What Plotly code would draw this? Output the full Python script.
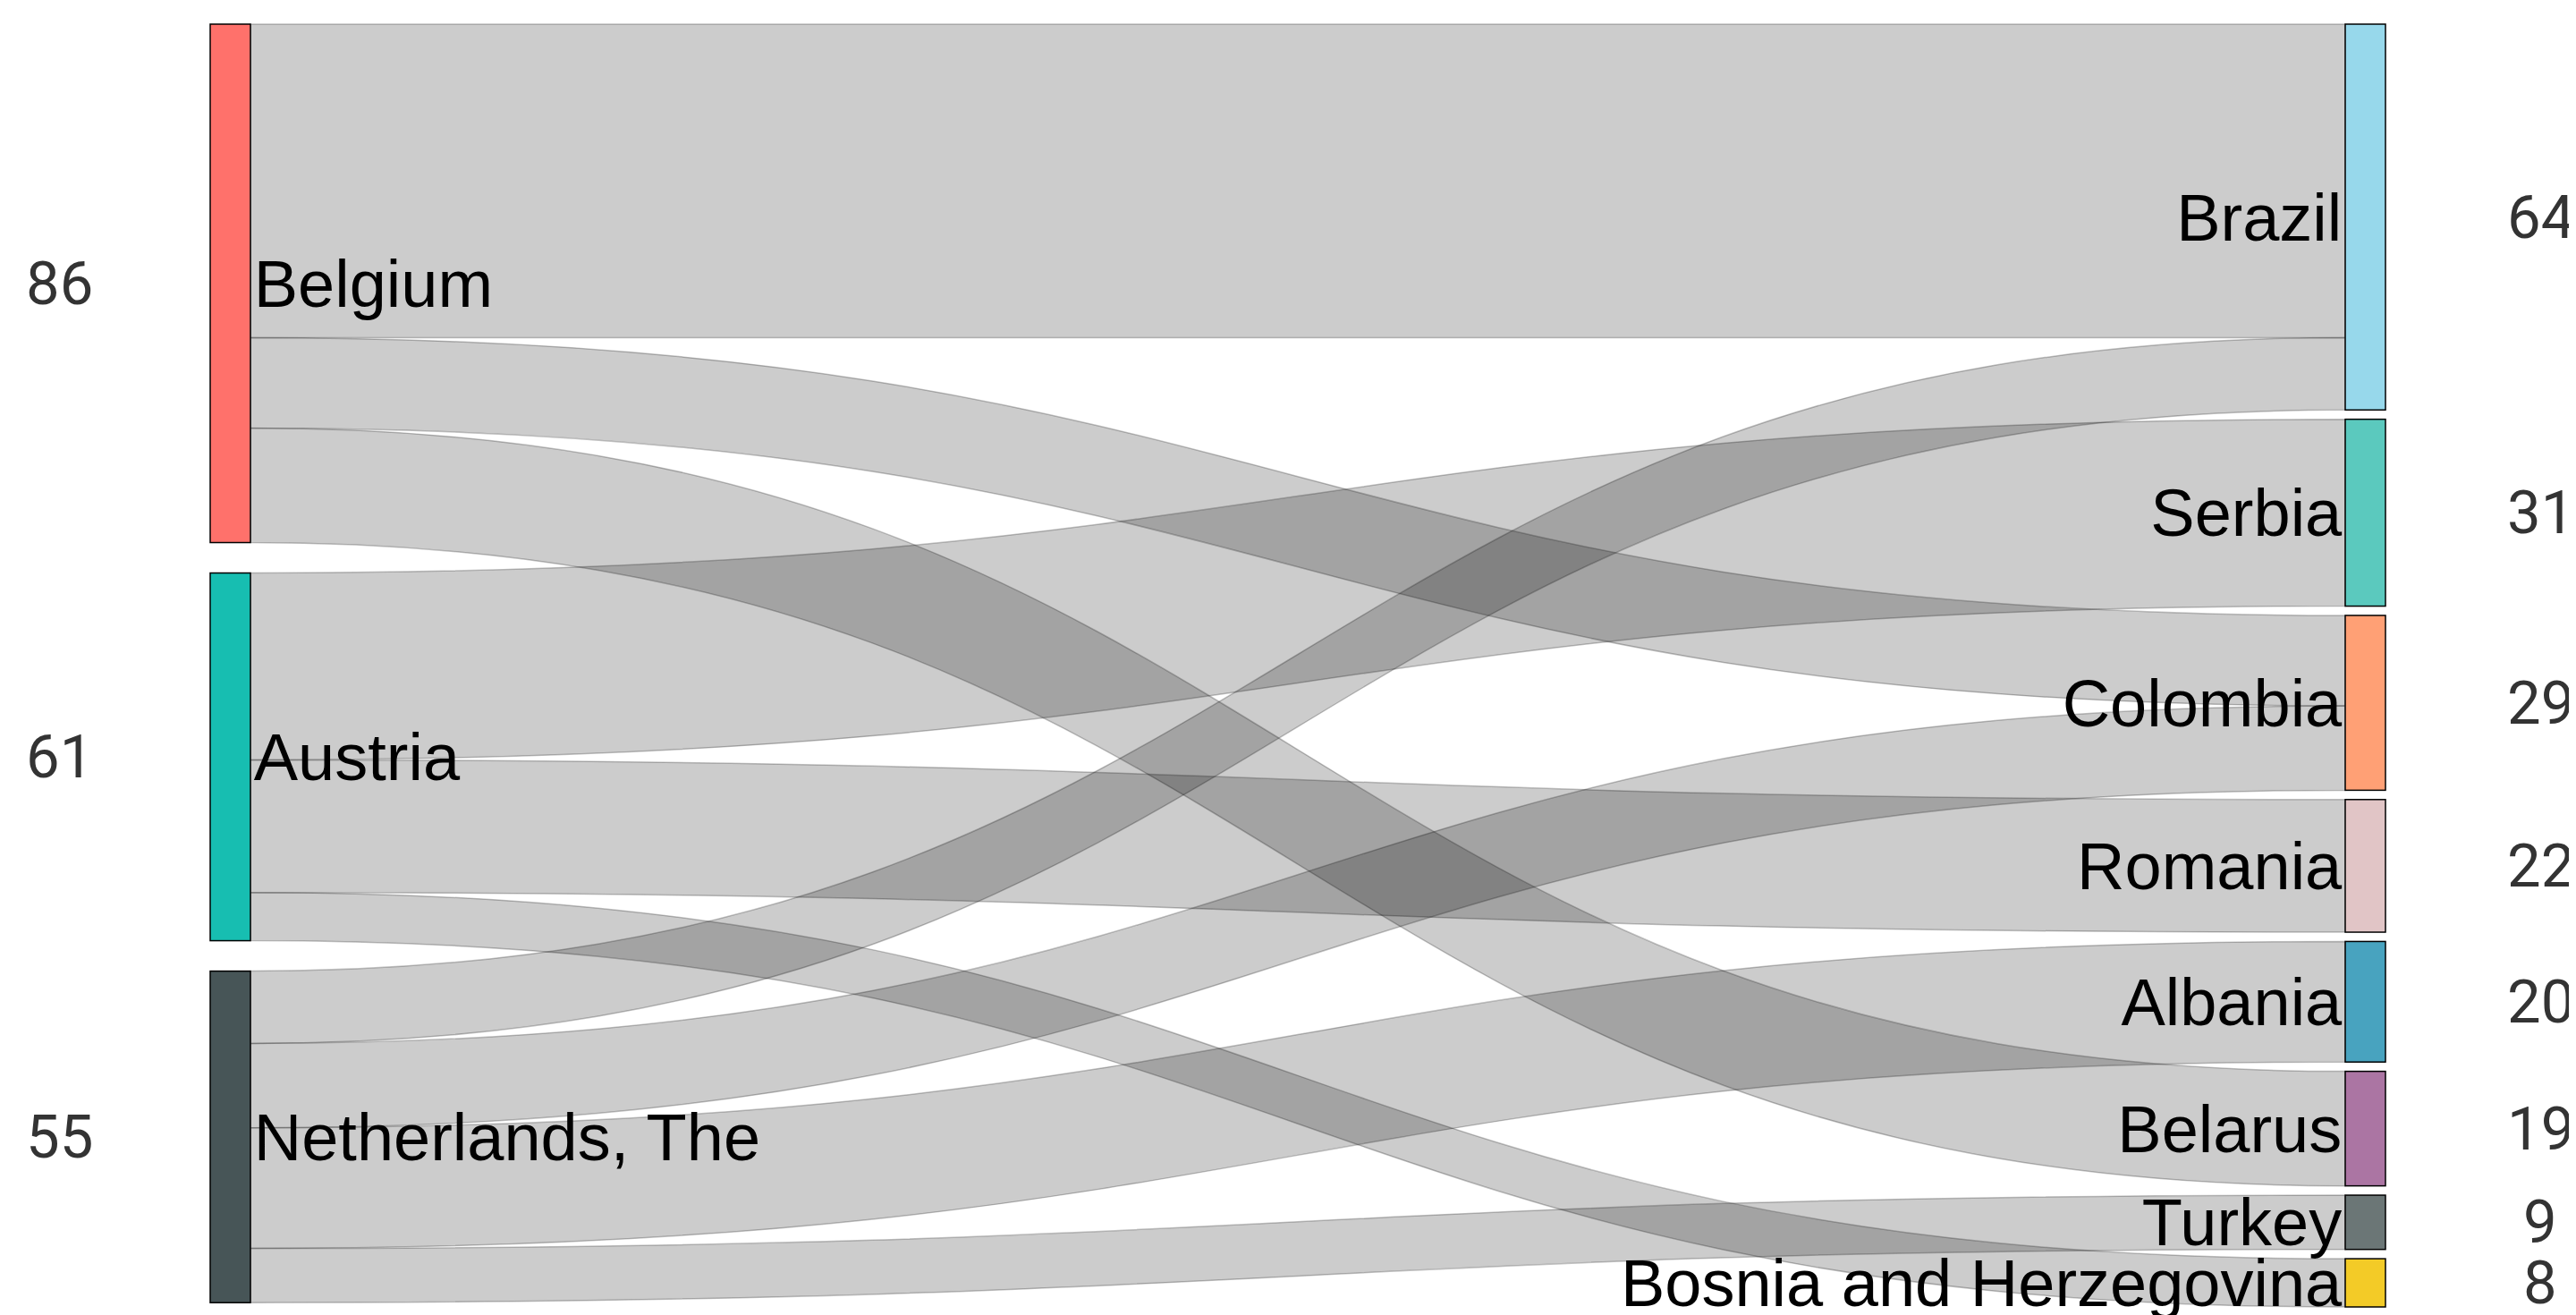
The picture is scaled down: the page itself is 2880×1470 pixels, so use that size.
import plotly.graph_objects as go

# ---------------- data ----------------
source_nodes = ["Belgium", "Austria", "Netherlands, The"]
target_nodes = ["Brazil", "Serbia", "Colombia", "Romania", "Albania",
                "Belarus", "Turkey", "Bosnia and Herzegovina"]

link_from = ["Belgium", "Belgium", "Belgium",
             "Austria", "Austria", "Austria",
             "Netherlands, The", "Netherlands, The", "Netherlands, The", "Netherlands, The"]
link_to = ["Brazil", "Colombia", "Belarus",
           "Serbia", "Romania", "Bosnia and Herzegovina",
           "Brazil", "Colombia", "Albania", "Turkey"]
link_value = [52, 15, 19,
              31, 22, 8,
              12, 14, 20, 9]

source_colors = ["#FF716B", "#17BEB1", "#475557"]
target_colors = ["#97D8EB", "#5BC9BE", "#FFA075", "#E1C5C6",
                 "#48A3BF", "#AB75A3", "#6B7676", "#F3CB27"]

# ---------------- layout constants ----------------
W, H = 2880, 1470
M_L, M_R, M_T, M_B = 227, 221, 19, 17
PW, PH = W - M_L - M_R, H - M_T - M_B
NODE_T = 45
PAD = 10.4
LEFT_GAP = 34

labels = source_nodes + target_nodes
idx = {n: i for i, n in enumerate(labels)}
totals = {n: 0 for n in labels}
for a, b, v in zip(link_from, link_to, link_value):
    totals[a] += v
    totals[b] += v
grand = sum(link_value)
ky = (PH - (len(target_nodes) - 1) * PAD) / grand


def column_centers(names, gap):
    ys, y = [], 0.0
    for n in names:
        h = totals[n] * ky
        ys.append((y + h / 2) / PH)
        y += h + gap
    return ys


ys = column_centers(source_nodes, LEFT_GAP) + column_centers(target_nodes, PAD)
x_left = (NODE_T / 2) / PW
x_right = 1 - (NODE_T / 2) / PW
xs = [x_left] * len(source_nodes) + [x_right] * len(target_nodes)


def darken(hexc, f=0.72):
    hexc = hexc.lstrip("#")
    r, g, b = (int(hexc[i:i + 2], 16) for i in (0, 2, 4))
    return "rgb(%d,%d,%d)" % (r * f, g * f, b * f)


node_colors = source_colors + target_colors

fig = go.Figure(go.Sankey(
    arrangement="fixed",
    node=dict(
        label=labels,
        x=xs,
        y=ys,
        pad=PAD,
        thickness=NODE_T,
        color=node_colors,
        line=dict(color=[darken(c) for c in node_colors], width=1.5),
    ),
    link=dict(
        source=[idx[a] for a in link_from],
        target=[idx[b] for b in link_to],
        value=link_value,
        color="rgba(0,0,0,0.2)",
        line=dict(color="rgba(0,0,0,0.24)", width=1.5),
    ),
    textfont=dict(family="Liberation Sans", size=74, color="#000000", shadow="none"),
))

# value annotations
annotations = []
for n, yc in zip(labels, ys):
    left = n in source_nodes
    x_px = 58 if left else 2832
    annotations.append(dict(
        xref="paper", yref="paper",
        x=(x_px - M_L) / PW, y=1 - yc,
        text=str(totals[n]), showarrow=False,
        xanchor="center", yanchor="middle",
        font=dict(family="Roboto", size=67, color="#333333"),
    ))

fig.update_layout(
    width=W, height=H,
    margin=dict(l=M_L, r=M_R, t=M_T, b=M_B),
    paper_bgcolor="white",
    plot_bgcolor="white",
    annotations=annotations,
)

fig.write_html("out.html")
